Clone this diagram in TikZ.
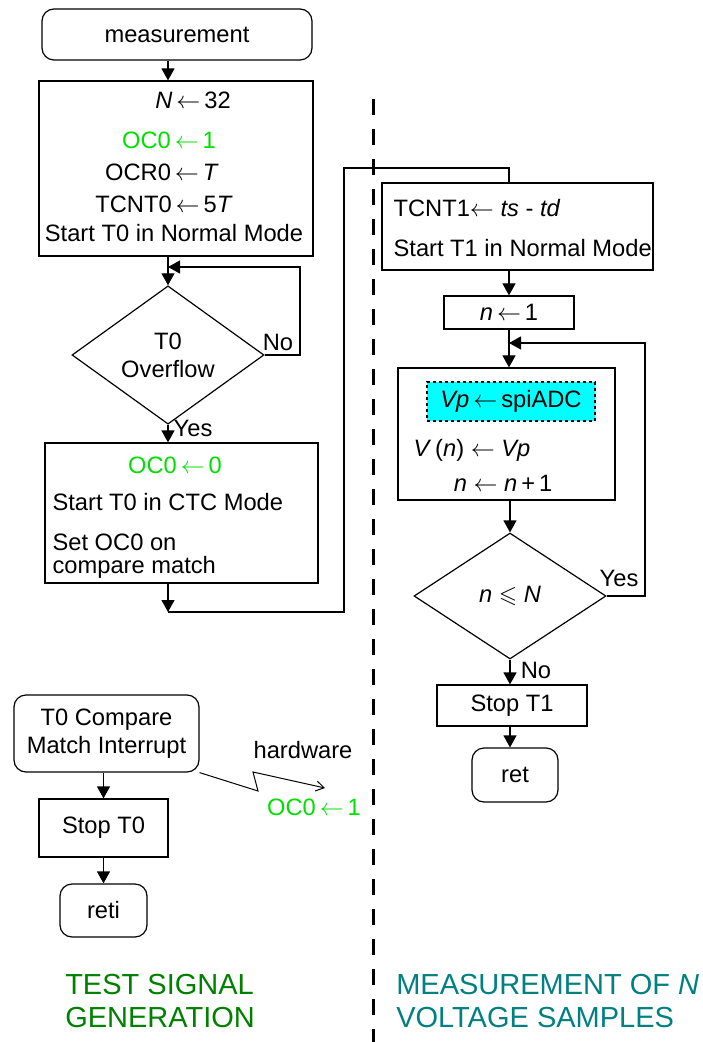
\documentclass[tikz,border=0pt]{standalone}
\usepackage{amssymb}
\usepackage{fontspec}
\setmainfont{Liberation Sans}
\usetikzlibrary{shapes.geometric,arrows.meta}
\definecolor{ocgreen}{RGB}{0,224,0}
\definecolor{titlegreen}{RGB}{0,128,0}
\definecolor{titleteal}{RGB}{0,128,128}
\definecolor{adccyan}{RGB}{0,255,255}
\newcommand{\getsL}{\ensuremath{\leftarrow}}

\begin{document}
\begin{tikzpicture}[x=0.5pt, y=-0.5pt, line width=0.6pt,
    font=\fontsize{11.85}{14}\selectfont,
    box/.style={draw, rectangle, inner sep=0pt},
    term/.style={draw, rectangle, rounded corners=6pt, inner sep=0pt},
    decision/.style={draw, diamond, inner sep=0pt, minimum width=96pt, minimum height=63pt, align=center},
    txt/.style={inner sep=0pt, text height=8.4pt, text depth=0pt},
    arr/.style={-{Triangle[length=6pt,width=6.5pt]}}]
    \useasboundingbox (0,0) rectangle (702,1042);

    % 左: テスト信号
    \node[term, minimum width=135pt, minimum height=25.5pt] (meas) at (177,34.5) {measurement};
    \node[box, minimum width=137pt, minimum height=87.5pt] (init) at (176,168.5) {};
    \node[txt] (initN) at (193,100) {\textit{N}\,\getsL\,32};
    \node[txt, text=ocgreen] (initOC) at (169,140) {OC0\,\getsL\,1};
    \node[txt] (initOCR) at (162,172) {OCR0\,\getsL\,\textit{T}};
    \node[txt] (initTC) at (164,204) {TCNT0\,\getsL\,5\textit{T}};
    \node[txt] (initSt) at (174,233) {Start T0 in Normal Mode};
    \node[decision] (ovf) at (168,355) {T0\\Overflow};
    \node[box, minimum width=136.5pt, minimum height=70pt] (ctc) at (181.5,513) {};
    \node[txt, text=ocgreen] (ctcOC) at (175,465) {OC0\,\getsL\,0};
    \node[txt, anchor=west] (ctcSt) at (52,502) {Start T0 in CTC Mode};
    \node[txt, anchor=west] (ctcSet) at (52,542) {Set OC0 on};
    \node[txt, anchor=west] (ctcCm) at (52,565) {compare match};

    \node[term, minimum width=92.5pt, minimum height=38.5pt, align=center] (isr) at (106.5,733.5) {T0 Compare\\Match Interrupt};
    \node[box, minimum width=64.5pt, minimum height=29pt] (stop0) at (103.5,828) {Stop T0};
    \node[term, minimum width=43.5pt, minimum height=26.5pt] (reti) at (103.5,910.5) {reti};
    \node[txt] (hw) at (303,750) {hardware};
    \node[txt, text=ocgreen] (hwOC) at (314,807) {OC0\,\getsL\,1};

    % 右: 測定
    \node[box, minimum width=135.5pt, minimum height=43.5pt] (setup) at (517.5,226.5) {};
    \node[txt, anchor=west] (setTC) at (393,208) {TCNT1\getsL\ \textit{ts} - \textit{td}};
    \node[txt, anchor=west] (setSt) at (393,248) {Start T1 in Normal Mode};
    \node[box, minimum width=65pt, minimum height=16.5pt] (ninit) at (509,312.5) {\textit{n}\,\getsL\,1};
    \node[box, minimum width=108.5pt, minimum height=66pt] (sample) at (506.5,434) {};
    \node[draw, dash pattern=on 1.5pt off 1.5pt, fill=adccyan, inner sep=0pt,
          minimum width=84pt, minimum height=19.5pt] (adc) at (511,401.5) {\textit{Vp}\,\getsL\,spiADC};
    \node[txt, anchor=west] (sampV) at (413,448) {\textit{V}\,(\textit{n})\ \getsL\ \textit{Vp}};
    \node[txt] (sampN) at (503,483) {\textit{n}\ \getsL\ \textit{n}\,+\,1};
    \node[decision] (cmp) at (510,596) {\textit{n}\ \ensuremath{\leqslant}\ \textit{N}};
    \node[box, minimum width=75pt, minimum height=20.5pt] (stop1) at (512,705.5) {Stop T1};
    \node[term, minimum width=43pt, minimum height=27pt] (ret) at (515,775) {ret};

    \node[txt] (noA) at (278,342) {No};
    \node[txt] (yesA) at (193,428) {Yes};
    \node[txt] (yesB) at (619,578) {Yes};
    \node[txt] (noB) at (536,670) {No};

    \coordinate (j1) at (168,612);
    \coordinate (j2) at (344,612);
    \coordinate (j3) at (344,168);
    \coordinate (lpA) at (300,267);
    \coordinate (lpB) at (645,343);

    % 矢印を引く
    \draw[arr] (meas.south -| ovf.north) -- (init.north -| ovf.north);
    \draw[arr] (init.south -| ovf.north) -- (ovf.north);
    \draw[arr] (ovf.east) -| (lpA) -- (lpA -| ovf.north);
    \draw[arr] (ovf.south) -- (ctc.north -| ovf.south);
    \draw[arr] (ctc.south -| ovf.south) -- (j1);
    \draw (j1) -- (j2) -- (j3) -| (setup.north -| ninit.north);
    \draw[arr] (setup.south -| ninit.north) -- (ninit.north);
    \draw[arr] (ninit.south) -- (sample.north -| ninit.south);
    \draw[arr] (cmp.east) -| (lpB) -- (lpB -| ninit.south);
    \draw[arr] (sample.south -| cmp.north) -- (cmp.north);
    \draw[arr] (cmp.south) -- (stop1.north -| cmp.south);
    \draw[arr] (stop1.south -| cmp.south) -- (ret.north -| cmp.south);
    \draw[arr] (isr.south -| stop0.north) -- (stop0.north);
    \draw[arr] (stop0.south) -- (reti.north -| stop0.south);
    \draw[-{Straight Barb[length=4pt,width=5pt]}, line width=0.5pt]
        (isr.south east) -- (258,791) -- (253,772) -- (325,788);

    \draw[line width=1.5pt, dash pattern=on 8pt off 7pt] (373,99) -- (373,1042);

    \node[anchor=west, align=left, text=titlegreen, font=\fontsize{14.5}{16.5}\selectfont] (ttlL) at (58,1001) {TEST SIGNAL\\GENERATION};
    \node[anchor=west, align=left, text=titleteal, font=\fontsize{14.5}{16.5}\selectfont] (ttlR) at (389,1001) {MEASUREMENT OF \textit{N}\\VOLTAGE SAMPLES};
\end{tikzpicture}
\end{document}
